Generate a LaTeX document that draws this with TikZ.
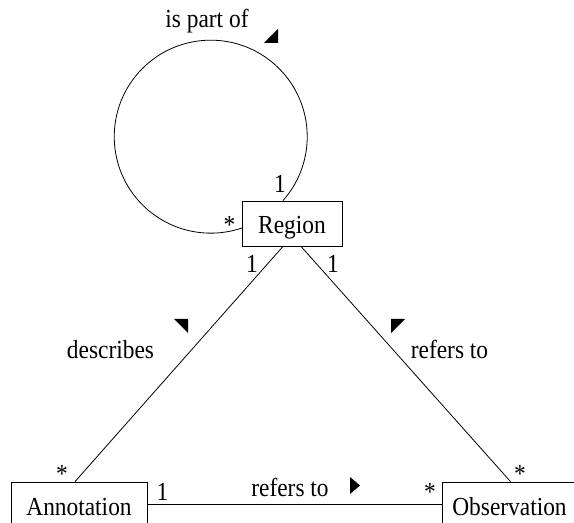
\documentclass[tikz,border=0pt]{standalone}
\usepackage{fontspec}
\setmainfont[FakeStretch=0.9]{Liberation Serif}
\usepackage{tikz}
\usetikzlibrary{positioning}

\begin{document}
\begin{tikzpicture}[
    x=1pt, y=1pt,
    font=\fontsize{26}{31}\selectfont,
    box/.style={draw, line width=0.8pt, minimum height=45pt, text height=21pt, text depth=0pt, inner sep=0pt},
    assoc/.style={line width=0.8pt},
    mult/.style={anchor=base, inner sep=0pt},
    lbl/.style={anchor=base, inner sep=0pt}
  ]
    \useasboundingbox (0,0) rectangle (574,523);
    \clip (0,0) rectangle (574,523);
    \node[box, minimum width=100pt] (reg) at (292,299.5) {Region};
    \node[box, minimum width=136pt] (ann) at (79,18.5) {Annotation};
    \node[box, minimum width=135pt] (obs) at (509.5,18.5) {Observation};
    % associations
    \draw[assoc] ([xshift=-9pt]reg.north) arc[start angle=-41.5, end angle=289, radius=96.5];
    \draw[assoc] ([xshift=-9pt]reg.south) -- ([xshift=-4pt]ann.north);
    \draw[assoc] ([xshift=9pt]reg.south) -- ([xshift=1pt]obs.north);
    \draw[assoc] (ann.east) -- (obs.west);
    \node[lbl] (partof) at (207,495) {is part of};
    \node[lbl] (descr) at (110.5,164) {describes};
    \node[lbl] (refobs) at (449.5,164) {refers to};
    \node[lbl] (refann) at (290,26) {refers to};
    % reading direction
    \fill (264,480) -- (278,480) -- (278,494) -- cycle;
    \fill (174,204) -- (188,204) -- (188,190) -- cycle;
    \fill (391,204) -- (405,204) -- (391,190) -- cycle;
    \fill (350,46) -- (350,29) -- (360,37.5) -- cycle;
    % multiplicities
    \node[mult] (m1) at (280,330) {1};
    \node[mult] (m2) at (229.5,289) {*};
    \node[mult] (m3) at (252,250) {1};
    \node[mult] (m4) at (333,250) {1};
    \node[mult] (m5) at (62,41) {*};
    \node[mult] (m6) at (162.5,23) {1};
    \node[mult] (m7) at (430,22) {*};
    \node[mult] (m8) at (520,40) {*};
  \end{tikzpicture}
\end{document}
